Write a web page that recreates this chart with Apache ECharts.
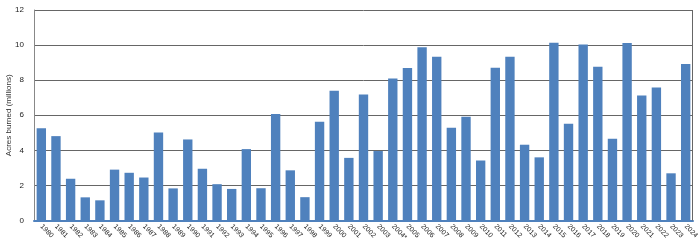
<!DOCTYPE html>
<html>
<head>
<meta charset="utf-8">
<script src="https://cdn.jsdelivr.net/npm/echarts@6/dist/echarts.min.js"></script>
<style>html,body{margin:0;padding:0;background:#fff;}#c{width:700px;height:246px;}</style>
</head>
<body>
<div id="c"></div>
<script>
const years = ["1980","1981","1982","1983","1984","1985","1986","1987","1988","1989","1990","1991","1992","1993","1994","1995","1996","1997","1998","1999","2000","2001","2002","2003","2004*","2005","2006","2007","2008","2009","2010","2011","2012","2013","2014","2015","2016","2017","2018","2019","2020","2021","2022","2023","2024"];
const acresBurned = [5.26,4.81,2.38,1.32,1.15,2.90,2.72,2.45,5.01,1.83,4.62,2.95,2.07,1.80,4.07,1.84,6.07,2.86,1.33,5.63,7.39,3.57,7.18,3.96,8.10,8.69,9.87,9.33,5.29,5.92,3.42,8.71,9.33,4.32,3.60,10.13,5.51,10.03,8.77,4.66,10.12,7.13,7.58,2.69,8.92];
const yAxisTitle = "Acres burned (millions)";
const yMin = 0, yMax = 12, yStep = 2;

const chart = echarts.init(document.getElementById('c'), null, {renderer:'canvas'});
const font = '"Liberation Sans", Arial, sans-serif';
chart.setOption({
  animation:false,
  grid:{left:34,right:7,top:10,bottom:25.5,containLabel:false,outerBoundsMode:'none'},
  xAxis:{
    type:'category', data:years,
    axisLine:{show:true,lineStyle:{color:'#4F81BD',width:2}},
    axisTick:{show:false},
    axisLabel:{rotate:-45,fontSize:7,color:'#222',fontFamily:font,interval:0,margin:5}
  },
  yAxis:{
    type:'value', min:yMin, max:yMax, interval:yStep,
    name:yAxisTitle, nameLocation:'middle', nameGap:25, nameMoveOverlap:false,
    nameTextStyle:{fontSize:8,color:'#333',fontFamily:font,verticalAlign:'middle'},
    axisLine:{show:true,lineStyle:{color:'#888',width:1}},
    axisTick:{show:false},
    axisLabel:{fontSize:8,color:'#222',fontFamily:font,margin:10},
    splitLine:{lineStyle:{color:'#666',width:1}}
  },
  series:[{
    type:'bar', data:acresBurned, barWidth:'64%',
    itemStyle:{color:'#4F81BD'}
  }]
});
const rightX = 700-7, topY = chart.convertToPixel({yAxisIndex:0}, yMax), botY = chart.convertToPixel({yAxisIndex:0}, yMin);
chart.setOption({graphic:[{type:'line',shape:{x1:rightX-0.5,y1:topY,x2:rightX-0.5,y2:botY},style:{stroke:'#666',lineWidth:1},z:5}]});
</script>
</body>
</html>
